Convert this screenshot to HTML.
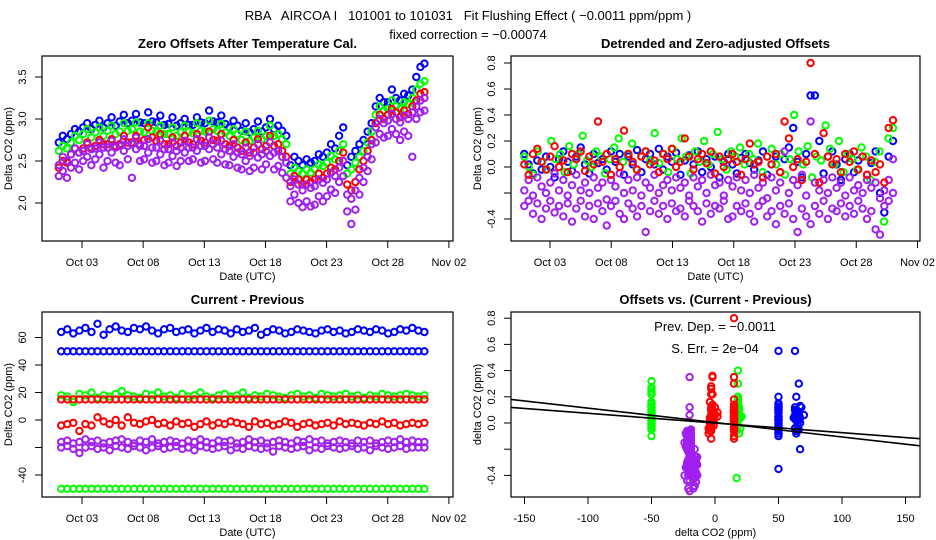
<!DOCTYPE html>
<html><head><meta charset="utf-8"><style>
html,body{margin:0;padding:0;background:#fff;}
svg{display:block;font-family:"Liberation Sans",sans-serif;}
</style></head><body>
<svg id="chart" width="936" height="540" viewBox="0 0 936 540" xmlns="http://www.w3.org/2000/svg">
<rect width="936" height="540" fill="#fff"/>
<text x="468" y="20" font-size="13" text-anchor="middle" style="white-space:pre">RBA   AIRCOA I   101001 to 101031   Fit Flushing Effect ( −0.0011 ppm/ppm )</text>
<text x="468" y="39" font-size="13" text-anchor="middle">fixed correction = −0.00074</text>
<g id="layer"></g>
</svg>
<script>
// ---------- Panel 1: Zero offsets after temperature cal. ----------
const p1Blue=[2.72,2.80,2.76,2.82,2.88,2.85,2.90,2.95,2.88,2.93,2.98,2.90,2.95,3.02,2.92,2.97,3.05,2.95,2.98,3.06,2.96,2.95,3.08,2.97,2.96,3.04,2.93,2.94,3.02,2.92,2.95,3.00,2.93,2.93,3.02,2.96,2.95,3.10,2.97,2.96,3.04,2.94,2.90,2.98,2.92,2.86,2.95,2.84,2.88,2.97,2.85,2.90,3.00,2.88,2.92,2.86,2.80,2.45,2.55,2.50,2.45,2.52,2.48,2.50,2.58,2.55,2.60,2.70,2.65,2.80,2.90,2.45,2.55,2.62,2.70,2.75,2.85,2.95,3.15,3.25,3.20,3.20,3.35,3.25,3.22,3.30,3.28,3.35,3.50,3.62,3.66];
const p1Green=[2.62,2.68,2.65,2.72,2.80,2.75,2.82,2.88,2.78,2.84,2.90,2.80,2.86,2.92,2.82,2.85,2.95,2.86,2.88,2.96,2.85,2.84,2.95,2.86,2.85,2.92,2.82,2.82,2.90,2.80,2.84,2.92,2.85,2.83,2.95,2.86,2.85,2.98,2.88,2.86,2.94,2.84,2.80,2.88,2.82,2.75,2.85,2.74,2.78,2.86,2.76,2.80,2.92,2.80,2.82,2.76,2.70,2.35,2.42,2.38,2.35,2.40,2.36,2.40,2.46,2.44,2.48,2.56,2.52,2.62,2.70,2.35,2.40,2.48,2.55,2.62,2.72,2.85,3.05,3.15,3.10,3.12,3.22,3.15,3.12,3.20,3.18,3.25,3.35,3.42,3.45];
const p1Red=[2.42,2.50,2.48,2.58,2.65,2.60,2.65,2.72,2.66,2.68,2.75,2.70,2.70,2.76,2.68,2.70,2.80,2.72,2.72,2.80,2.70,2.75,2.90,2.78,2.74,2.82,2.70,2.70,2.78,2.68,2.72,2.80,2.72,2.70,2.82,2.74,2.72,2.85,2.75,2.74,2.82,2.70,2.68,2.75,2.66,2.62,2.72,2.60,2.66,2.76,2.64,2.68,2.80,2.68,2.70,2.62,2.55,2.25,2.32,2.28,2.22,2.28,2.25,2.28,2.35,2.30,2.35,2.42,2.40,2.50,2.60,2.22,2.15,2.25,2.40,2.50,2.62,2.75,2.95,3.05,3.00,3.05,3.12,3.08,3.02,3.10,3.06,3.15,3.22,3.30,3.32];
const p1PurpleA=[2.45,2.55,2.50,2.58,2.65,2.60,2.62,2.70,2.64,2.65,2.72,2.66,2.66,2.74,2.66,2.68,2.76,2.68,2.70,2.78,2.68,2.68,2.76,2.66,2.66,2.74,2.64,2.64,2.72,2.62,2.66,2.74,2.66,2.66,2.76,2.68,2.68,2.78,2.70,2.66,2.74,2.64,2.62,2.70,2.60,2.58,2.66,2.56,2.60,2.70,2.58,2.62,2.72,2.60,2.62,2.55,2.48,2.20,2.28,2.22,2.15,2.22,2.18,2.20,2.28,2.24,2.28,2.36,2.32,2.42,2.50,2.10,2.05,2.15,2.30,2.42,2.55,2.70,2.90,3.00,2.95,2.98,3.06,3.00,2.96,3.04,3.00,3.08,3.15,3.22,3.25];
const p1PurpleB=[2.32,2.38,2.30,2.42,2.48,2.40,2.50,2.55,2.45,2.52,2.58,2.42,2.50,2.60,2.48,2.45,2.62,2.52,2.30,2.64,2.50,2.52,2.60,2.48,2.50,2.58,2.45,2.48,2.56,2.44,2.50,2.60,2.50,2.52,2.62,2.48,2.50,2.64,2.52,2.48,2.58,2.46,2.45,2.55,2.42,2.40,2.50,2.38,2.42,2.54,2.40,2.46,2.56,2.40,2.44,2.36,2.30,2.02,2.10,2.00,1.95,2.02,1.96,1.98,2.08,2.02,2.08,2.16,2.12,2.25,2.32,1.90,1.75,1.92,2.10,2.25,2.38,2.52,2.72,2.82,2.78,2.80,2.88,2.82,2.75,2.85,2.80,2.55,3.00,3.08,3.10];
const p1YTicks=[2.0,2.5,3.0,3.5];
const p1YLabels=["2.0","2.5","3.0","3.5"];
const dateTicks=[3,8,13,18,23,28,33];
const dateLabels=["Oct 03","Oct 08","Oct 13","Oct 18","Oct 23","Oct 28","Nov 02"];
// ---------- Panel 2: detrended offsets ----------
const p2Blue=[0.10,0.02,-0.05,0.05,-0.02,0.08,0.00,-0.08,0.06,0.12,0.04,-0.03,0.08,0.15,0.02,-0.05,0.10,0.03,0.06,-0.02,0.12,0.04,0.10,-0.06,0.08,0.02,0.13,-0.04,0.06,0.10,0.02,0.14,-0.02,0.08,0.04,0.11,-0.06,0.05,0.09,0.02,0.12,-0.04,0.06,0.00,0.08,-0.08,0.04,0.10,0.02,-0.05,0.07,0.10,0.03,-0.02,0.05,0.12,-0.06,0.02,0.08,-0.04,0.06,0.15,0.30,0.04,-0.08,0.10,0.55,0.55,0.20,-0.05,0.08,0.12,0.02,-0.10,0.06,0.10,-0.04,0.05,0.08,-0.06,0.03,0.12,-0.20,-0.35,0.08,0.20];
const p2Green=[0.08,0.00,-0.06,0.12,0.04,-0.02,0.20,0.06,0.10,-0.04,0.16,0.02,0.10,0.24,0.05,0.00,0.12,0.08,-0.05,0.06,0.15,0.22,0.04,0.10,0.18,-0.02,0.08,0.12,0.05,0.26,0.03,0.10,-0.04,0.14,0.06,0.22,0.08,-0.05,0.12,0.04,0.20,0.02,0.10,0.27,0.06,-0.02,0.12,0.08,0.15,0.02,0.10,0.06,0.18,-0.04,0.08,0.14,0.02,0.10,-0.06,0.06,0.40,0.12,0.02,0.16,-0.08,0.08,0.05,0.32,0.14,0.02,0.20,-0.04,0.10,0.06,-0.02,0.15,0.08,-0.10,0.04,0.12,-0.42,0.22,0.30];
const p2Red=[0.02,-0.06,0.10,0.14,0.04,-0.02,0.08,0.16,0.00,0.05,-0.04,0.10,0.06,0.12,-0.03,0.08,0.02,0.35,0.04,0.10,-0.06,0.06,0.00,0.28,0.10,0.04,-0.02,0.08,0.12,0.02,0.05,-0.04,0.10,0.06,0.14,0.00,0.04,0.22,0.08,-0.02,0.06,0.10,0.03,0.12,-0.05,0.08,0.00,0.06,0.10,0.04,-0.06,0.06,0.18,0.02,0.04,-0.08,0.08,0.02,0.10,-0.04,0.35,0.22,0.00,0.06,-0.10,0.04,0.80,0.10,-0.12,0.26,0.08,0.02,0.06,-0.04,0.10,0.04,0.12,-0.02,0.08,-0.06,0.05,-0.04,0.02,-0.12,0.30,0.36];
const p2PurpleA=[-0.18,-0.10,-0.22,-0.08,-0.15,-0.20,-0.12,-0.05,-0.18,-0.10,-0.22,-0.14,-0.06,-0.18,-0.12,-0.20,-0.08,-0.16,-0.12,-0.25,-0.10,-0.15,-0.05,-0.20,-0.10,-0.18,-0.08,-0.22,-0.12,-0.16,-0.06,-0.20,-0.14,-0.10,-0.18,-0.08,-0.16,-0.12,-0.22,-0.08,-0.15,-0.10,-0.20,-0.06,-0.14,-0.12,-0.22,-0.10,-0.15,-0.08,-0.18,-0.10,-0.20,-0.06,-0.16,-0.12,-0.24,-0.08,-0.18,-0.12,0.12,-0.20,-0.10,-0.14,-0.06,-0.22,0.35,-0.12,-0.18,-0.10,-0.20,-0.08,-0.16,-0.12,-0.22,-0.08,-0.18,-0.14,-0.20,-0.10,-0.16,-0.12,-0.24,-0.18,-0.10,0.06];
const p2PurpleB=[-0.30,-0.26,-0.36,-0.28,-0.40,-0.32,-0.26,-0.35,-0.30,-0.38,-0.28,-0.42,-0.32,-0.26,-0.38,-0.30,-0.40,-0.28,-0.34,-0.45,-0.30,-0.26,-0.36,-0.40,-0.28,-0.32,-0.38,-0.30,-0.50,-0.34,-0.26,-0.36,-0.30,-0.40,-0.28,-0.34,-0.32,-0.38,-0.26,-0.30,-0.34,-0.42,-0.28,-0.36,-0.30,-0.32,-0.26,-0.40,-0.38,-0.30,-0.34,-0.28,-0.36,-0.42,-0.30,-0.26,-0.38,-0.34,-0.44,-0.30,-0.36,-0.28,-0.40,-0.50,-0.32,-0.38,-0.44,-0.30,-0.36,-0.26,-0.40,-0.32,-0.34,-0.28,-0.38,-0.30,-0.36,-0.26,-0.32,-0.40,-0.34,-0.48,-0.52,-0.30,-0.26,-0.20];
const offTicks=[-0.4,-0.2,0.0,0.2,0.4,0.6,0.8];
const offLabels=["-0.4","","0.0","0.2","0.4","0.6","0.8"];
// ---------- Panel 3: current - previous ----------
const p3BlueHi=[64,66,63,65,67,64,70,62,66,68,65,64,67,66,68,65,63,66,67,64,65,66,63,65,67,64,66,65,63,66,64,65,67,62,64,66,65,63,64,66,65,64,63,65,66,64,65,63,64,66,65,64,66,65,63,64,66,65,67,65,64];
const p3BlueLo=[50,50,50,50,50,50,50,50,50,50,50,50,50,50,50,50,50,50,50,50,50,50,50,50,50,50,50,50,50,50,50,50,50,50,50,50,50,50,50,50,50,50,50,50,50,50,50,50,50,50,50,50,50,50,50,50,50,50,50,50,50];
const p3GreenHi=[18,17,13,19,18,20,16,18,17,19,21,18,17,16,19,18,20,17,18,16,19,17,18,20,17,16,18,19,17,18,20,16,18,17,19,18,17,16,18,19,17,18,16,19,18,17,18,19,17,18,16,18,17,19,18,17,18,19,18,17,18];
const p3GreenLo=[-50,-50,-50,-50,-50,-50,-50,-50,-50,-50,-50,-50,-50,-50,-50,-50,-50,-50,-50,-50,-50,-50,-50,-50,-50,-50,-50,-50,-50,-50,-50,-50,-50,-50,-50,-50,-50,-50,-50,-50,-50,-50,-50,-50,-50,-50,-50,-50,-50,-50,-50,-50,-50,-50,-50,-50,-50,-50,-50,-50,-50];
const p3RedHi=[15,15,15,15,15,15,15,15,15,15,15,15,15,15,15,15,15,15,15,15,15,15,15,15,15,15,15,15,15,15,15,15,15,15,15,15,15,15,15,15,15,15,15,15,15,15,15,15,15,15,15,15,15,15,15,15,15,15,15,15,15];
const p3RedLo=[-4,-3,-2,-8,-3,-4,2,-1,-3,0,-4,2,-2,-3,-1,0,-3,-2,-4,-1,-3,-2,-5,-3,-1,-4,-2,-3,-1,-2,-3,-5,-1,-3,-2,-4,-3,-1,-2,-5,-3,-2,-4,-3,-2,-4,-1,-3,-2,-3,-4,-2,-3,-1,-3,-2,-4,-3,-2,-3,-2];
const p3PurpleA=[-16,-15,-17,-16,-14,-16,-15,-17,-16,-15,-14,-16,-17,-15,-16,-14,-17,-16,-15,-16,-17,-15,-16,-14,-16,-17,-15,-16,-15,-17,-16,-14,-16,-15,-17,-16,-15,-16,-17,-15,-16,-14,-16,-15,-17,-16,-15,-16,-17,-15,-16,-15,-17,-16,-15,-16,-14,-16,-15,-16,-16];
const p3PurpleB=[-20,-19,-21,-24,-20,-19,-21,-20,-22,-19,-20,-21,-19,-20,-22,-20,-19,-21,-20,-19,-21,-20,-22,-19,-20,-21,-20,-19,-22,-20,-21,-19,-20,-21,-20,-23,-19,-20,-21,-20,-19,-22,-20,-21,-19,-20,-21,-20,-19,-21,-20,-22,-19,-20,-21,-20,-19,-21,-20,-20,-20];
const p3YTicks=[-40,-20,0,20,40,60];
const p3YLabels=["-40","","0","20","40","60"];
// ---------- Panel 4 ----------
const p4XTicks=[-150,-100,-50,0,50,100,150];
const p4XLabels=["-150","-100","-50","0","50","100","150"];
const fitSlopes=[-0.0011,-0.00074];
const fitIntercepts=[0.0035,0.0];

const NS="http://www.w3.org/2000/svg";
const layer=document.getElementById('layer');
function mk(tag,attrs,parent){const e=document.createElementNS(NS,tag);for(const k in attrs)e.setAttribute(k,attrs[k]);(parent||layer).appendChild(e);return e;}
const COL={blue:"#0000ff",green:"#00ff00",red:"#ff0000",purple:"#a020f0"};

function panel(box,name,title,xlab,ylab){
  const g=mk('g',{});
  
  
  const r=mk('rect',{x:box.l,y:box.t,width:box.r-box.l,height:box.b-box.t,fill:"none",stroke:"#000","stroke-width":1.2},g);
  
  
  const tt=mk('text',{x:(box.l+box.r)/2,y:box.t-8,"font-size":13,"font-weight":"bold","text-anchor":"middle"},g);
  tt.textContent=title;
  
  
  const xl=mk('text',{x:(box.l+box.r)/2,y:box.b+39,"font-size":11,"text-anchor":"middle"},g);
  xl.textContent=xlab;
  
  
  const cy=(box.t+box.b)/2;
  const yl=mk('text',{x:0,y:0,"font-size":11,"text-anchor":"middle",transform:`translate(${box.l-30},${cy}) rotate(-90)`},g);
  yl.textContent=ylab;
  
  
  return g;
}
function xAxis(g,box,ticks,labels,fx){
  const a=mk('g',{},g);
  
  
  ticks.forEach((t,i)=>{
    const x=fx(t);
    mk('line',{x1:x,x2:x,y1:box.b,y2:box.b+7,stroke:"#000"},a);
    const tx=mk('text',{x:x,y:box.b+25,"font-size":11,"text-anchor":"middle"},a);
    tx.textContent=labels[i];
    
    
  });
}
function yAxis(g,box,ticks,labels,fy){
  const a=mk('g',{},g);
  
  
  ticks.forEach((t,i)=>{
    const y=fy(t);
    mk('line',{x1:box.l-7,x2:box.l,y1:y,y2:y,stroke:"#000"},a);
    if(labels[i]){
      const tx=mk('text',{x:0,y:0,"font-size":11,"text-anchor":"middle",transform:`translate(${box.l-16},${y}) rotate(-90)`},a);
      tx.textContent=labels[i];
      
      
    }
  });
}
function series(g,name,color,xs,ys,fx,fy){
  const s=mk('g',{fill:"none",stroke:color,"stroke-width":2},g);
  
  
  ys.forEach((v,i)=>{
    const c=mk('circle',{cx:fx(xs(i,ys.length)).toFixed(1),cy:fy(v).toFixed(1),r:3.2},s);
    
    
  });
}
const timeOf=(t0,t1)=>(i,n)=>t0+i*(t1-t0)/(n-1);

// Panel 1
const b1={l:42,t:56,r:453,b:241};
const fx1=d=>82+(d-3)*12.23, fy1=v=>203-(v-2)*84;
const g1=panel(b1,'zero-offsets-panel','Zero Offsets After Temperature Cal.','Date (UTC)','Delta CO2 (ppm)');
xAxis(g1,b1,dateTicks,dateLabels,fx1);yAxis(g1,b1,p1YTicks,p1YLabels,fy1);
const tp1=timeOf(1.1,31.0);
series(g1,'series-blue',COL.blue,tp1,p1Blue,fx1,fy1);
series(g1,'series-green',COL.green,tp1,p1Green,fx1,fy1);
series(g1,'series-red',COL.red,tp1,p1Red,fx1,fy1);
series(g1,'series-purple-upper',COL.purple,tp1,p1PurpleA,fx1,fy1);
series(g1,'series-purple-lower',COL.purple,tp1,p1PurpleB,fx1,fy1);

// Panel 2
const b2={l:511,t:56,r:920,b:241};
const fx2=d=>550+(d-3)*12.25, fy2=v=>167-v*130;
const g2=panel(b2,'detrended-offsets-panel','Detrended and Zero-adjusted Offsets','Date (UTC)','Delta CO2 (ppm)');
xAxis(g2,b2,dateTicks,dateLabels,fx2);yAxis(g2,b2,offTicks,offLabels,fy2);
const tp2=timeOf(0.9,31.0);
series(g2,'series-blue',COL.blue,tp2,p2Blue,fx2,fy2);
series(g2,'series-green',COL.green,tp2,p2Green,fx2,fy2);
series(g2,'series-purple-upper',COL.purple,tp2,p2PurpleA,fx2,fy2);
series(g2,'series-purple-lower',COL.purple,tp2,p2PurpleB,fx2,fy2);
series(g2,'series-red',COL.red,tp2,p2Red,fx2,fy2);

// Panel 3
const b3={l:42,t:312,r:453,b:497};
const fy3=v=>420-v*1.375;
const g3=panel(b3,'current-minus-previous-panel','Current - Previous','Date (UTC)','Delta CO2 (ppm)');
xAxis(g3,b3,dateTicks,dateLabels,fx1);yAxis(g3,b3,p3YTicks,p3YLabels,fy3);
const tp3=timeOf(1.3,31.0);
series(g3,'series-blue-high',COL.blue,tp3,p3BlueHi,fx1,fy3);
series(g3,'series-blue-low',COL.blue,tp3,p3BlueLo,fx1,fy3);
series(g3,'series-green-high',COL.green,tp3,p3GreenHi,fx1,fy3);
series(g3,'series-green-low',COL.green,tp3,p3GreenLo,fx1,fy3);
series(g3,'series-red-high',COL.red,tp3,p3RedHi,fx1,fy3);
series(g3,'series-red-low',COL.red,tp3,p3RedLo,fx1,fy3);
series(g3,'series-purple-a',COL.purple,tp3,p3PurpleA,fx1,fy3);
series(g3,'series-purple-b',COL.purple,tp3,p3PurpleB,fx1,fy3);

// Panel 4
const b4={l:511,t:312,r:920,b:497};
const fx4=v=>715+v*1.27, fy4=v=>423-v*131;
const g4=panel(b4,'offsets-vs-diff-panel','Offsets vs. (Current - Previous)','delta CO2 (ppm)','delta CO2 (ppm)');
xAxis(g4,b4,p4XTicks,p4XLabels,fx4);yAxis(g4,b4,offTicks,offLabels,fy4);
function scatter(name,color,yArr,xA,xB){
  const s=mk('g',{fill:"none",stroke:color,"stroke-width":2},g4);
  
  
  yArr.forEach((v,i)=>{
    const j=Math.round(i*(xA.length-1)/(yArr.length-1));
    const xv=(i%2===0?xA:xB)[j];
    const c=mk('circle',{cx:fx4(xv).toFixed(1),cy:fy4(v).toFixed(1),r:3.2},s);
    
    
  });
}
scatter('scatter-blue',COL.blue,p2Blue,p3BlueHi,p3BlueLo);
scatter('scatter-green',COL.green,p2Green,p3GreenHi,p3GreenLo);
scatter('scatter-red',COL.red,p2Red,p3RedHi,p3RedLo);
scatter('scatter-purple-a',COL.purple,p2PurpleA,p3PurpleB,p3PurpleB);
scatter('scatter-purple-b',COL.purple,p2PurpleB,p3PurpleB,p3PurpleA);
const clip=mk('clipPath',{id:'c4'});
mk('rect',{x:b4.l,y:b4.t,width:b4.r-b4.l,height:b4.b-b4.t},clip);
fitSlopes.forEach((m,i)=>{
  const x0=-170,x1=170;
  const l=mk('line',{x1:fx4(x0),y1:fy4(fitIntercepts[i]+m*x0),x2:fx4(x1),y2:fy4(fitIntercepts[i]+m*x1),stroke:"#000","stroke-width":1.6,"clip-path":"url(#c4)"},g4);
  
  
});
const t1=mk('text',{x:715,y:331,"font-size":13,"text-anchor":"middle"},g4);
t1.textContent='Prev. Dep. =  −0.0011';


const t2=mk('text',{x:715,y:353,"font-size":13,"text-anchor":"middle"},g4);
t2.textContent='S. Err. =  2e−04';


</script>
</body></html>
